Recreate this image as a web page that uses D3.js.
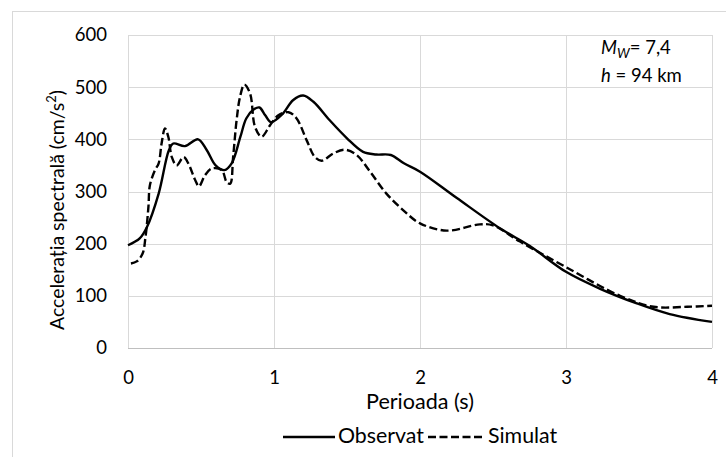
<!DOCTYPE html>
<html><head><meta charset="utf-8">
<script src="https://cdn.jsdelivr.net/npm/d3@7"></script>
<style>
body{margin:0;background:#fff}
svg text{font-family:Lato, "Open Sans", sans-serif; fill:#000}
</style>
</head><body>
<svg id="c" width="726" height="457"></svg>
<script>
// ---- data ----
const obsPeriod = [0, 0.08, 0.13, 0.21, 0.28, 0.31, 0.39, 0.48, 0.54, 0.6, 0.66, 0.71, 0.77, 0.81, 0.86, 0.9, 0.94, 0.98, 1.06, 1.13, 1.2, 1.27, 1.38, 1.5, 1.61, 1.7, 1.8, 1.89, 2.0, 2.25, 2.55, 2.75, 3.0, 3.23, 3.48, 3.71, 4.0];
const obsValues = [197, 210, 232, 296, 379, 392, 387, 400, 379, 350, 341, 354, 405, 440, 457, 461, 446, 433, 449, 475, 484, 472, 437, 402, 376, 371, 370, 354, 338, 288, 229, 196, 146, 114, 86, 65, 50];
const simPeriod = [0.02, 0.06, 0.1, 0.12, 0.14, 0.15, 0.185, 0.21, 0.23, 0.253, 0.276, 0.3, 0.333, 0.38, 0.413, 0.46, 0.486, 0.527, 0.573, 0.642, 0.676, 0.7, 0.72, 0.744, 0.767, 0.797, 0.836, 0.87, 0.915, 0.973, 1.03, 1.1, 1.155, 1.224, 1.28, 1.327, 1.406, 1.486, 1.566, 1.658, 1.77, 1.886, 2.0, 2.183, 2.41, 2.5, 2.685, 3.0, 3.37, 3.6, 3.83, 4.0];
const simValues = [162, 166, 181, 213, 271, 312, 341, 354, 392, 421, 405, 366, 350, 366, 354, 322, 310, 331, 344, 341, 318, 315, 366, 437, 481, 505, 488, 424, 405, 427, 446, 452, 440, 398, 366, 359, 373, 380, 370, 338, 296, 264, 239, 225, 237, 235, 204, 155, 100, 79, 79, 81];
const xTicks = [0, 1, 2, 3, 4];
const yTicks = [0, 100, 200, 300, 400, 500, 600];
const seriesNames = ["Observat", "Simulat"];

// ---- layout ----
const L = 128, R = 712, T = 35, B = 348;
const svg = d3.select("#c");

function fit(sel, target) {
  const n = sel.node();
  const base = parseFloat(sel.style("font-size"));
  const w = n.getComputedTextLength();
  const k = target / w;
  sel.style("font-size", (base * k) + "px");
  sel.selectAll("tspan").each(function() {
    const t = d3.select(this);
    const fs = this.style.fontSize;
    if (fs) t.style("font-size", (parseFloat(fs) * k) + "px");
    const dy = t.attr("dy");
    if (dy) t.attr("dy", parseFloat(dy) * k);
  });
  return base * k;
}

svg.append("rect").attr("x", 12.5).attr("y", 11.5).attr("width", 800).attr("height", 600)
  .attr("fill", "#fff").attr("stroke", "#d9d9d9").attr("stroke-width", 1);

const x = d3.scaleLinear().domain([0, 4]).range([L, R]);
const y = d3.scaleLinear().domain([0, 600]).range([B, T]);

// gridlines
const g = svg.append("g");
g.selectAll(".hg").data(yTicks.filter(d => d > 0)).join("line")
  .attr("x1", L).attr("x2", R).attr("y1", d => Math.round(y(d)) + 0.5).attr("y2", d => Math.round(y(d)) + 0.5)
  .attr("stroke", "#d9d9d9").attr("stroke-width", 1);
g.selectAll(".vg").data(xTicks).join("line")
  .attr("y1", T).attr("y2", B).attr("x1", d => Math.round(x(d)) + 0.5).attr("x2", d => Math.round(x(d)) + 0.5)
  .attr("stroke", "#d9d9d9").attr("stroke-width", 1);
g.append("line").attr("x1", L).attr("x2", R).attr("y1", Math.round(y(0)) + 0.5).attr("y2", Math.round(y(0)) + 0.5)
  .attr("stroke", "#bfbfbf").attr("stroke-width", 1);

// axes via d3
const xAxis = svg.append("g").attr("transform", `translate(0,${B})`)
  .call(d3.axisBottom(x).tickValues(xTicks).tickSize(0).tickPadding(23).tickFormat(d3.format("d")));
const yAxis = svg.append("g").attr("transform", `translate(${L},0)`)
  .call(d3.axisLeft(y).tickValues(yTicks).tickSize(0).tickPadding(21).tickFormat(d3.format("d")));
[xAxis, yAxis].forEach(a => {
  a.select(".domain").remove();
  a.selectAll("text").style("font-size", "18.5px").style("font-family", "Lato, sans-serif").attr("fill", "#000");
});

// lines
const line = d3.line().x(d => x(d[0])).y(d => y(d[1])).curve(d3.curveCatmullRom.alpha(0.5));
const obs = obsPeriod.map((p, i) => [p, obsValues[i]]);
const sim = simPeriod.map((p, i) => [p, simValues[i]]);
svg.append("path").datum(obs).attr("d", line).attr("fill", "none")
  .attr("stroke", "#000").attr("stroke-width", 2.4).attr("stroke-linejoin", "round");
svg.append("path").datum(sim).attr("d", line).attr("fill", "none")
  .attr("stroke", "#000").attr("stroke-width", 2.4).attr("stroke-dasharray", "8,3.5");

// axis titles
const xt = svg.append("text").attr("x", (L + R) / 2).attr("y", 409).attr("text-anchor", "middle")
  .style("font-size", "18px").text("Perioada (s)");
fit(xt, 108);
const yt = svg.append("text").attr("transform", `translate(64,210) rotate(-90)`)
  .attr("text-anchor", "middle").style("font-size", "18px");
yt.append("tspan").text("Accelerația spectrală (cm/s");
yt.append("tspan").attr("dy", -7).style("font-size", "12px").text("2");
yt.append("tspan").attr("dy", 7).text(")");
fit(yt, 240);

// annotation
const afs = 18.5;
const a1 = svg.append("text").attr("x", 601).attr("y", 54).style("font-size", afs + "px");
a1.append("tspan").style("font-style", "italic").text("M");
a1.append("tspan").style("font-style", "italic").style("font-size", (afs * 0.72) + "px").attr("dy", 4).text("W");
a1.append("tspan").attr("dy", -4).text("= 7,4");
const a2 = svg.append("text").attr("x", 601).attr("y", 82).style("font-size", afs + "px");
a2.append("tspan").style("font-style", "italic").text("h");
a2.append("tspan").text(" = 94 km");

// legend
const leg = svg.append("g");
const ly = 437;
leg.append("line").attr("x1", 283).attr("x2", 335).attr("y1", ly).attr("y2", ly)
  .attr("stroke", "#000").attr("stroke-width", 2.4);
const l1 = leg.append("text").attr("x", 338).attr("y", ly + 6).style("font-size", "18px").text(seriesNames[0]);
const fs = fit(l1, 86);
leg.append("line").attr("x1", 428).attr("x2", 485).attr("y1", ly).attr("y2", ly)
  .attr("stroke", "#000").attr("stroke-width", 2.4).attr("stroke-dasharray", "8,3.5");
leg.append("text").attr("x", 488).attr("y", ly + 6).style("font-size", fs + "px").text(seriesNames[1]);
</script>
</body></html>
